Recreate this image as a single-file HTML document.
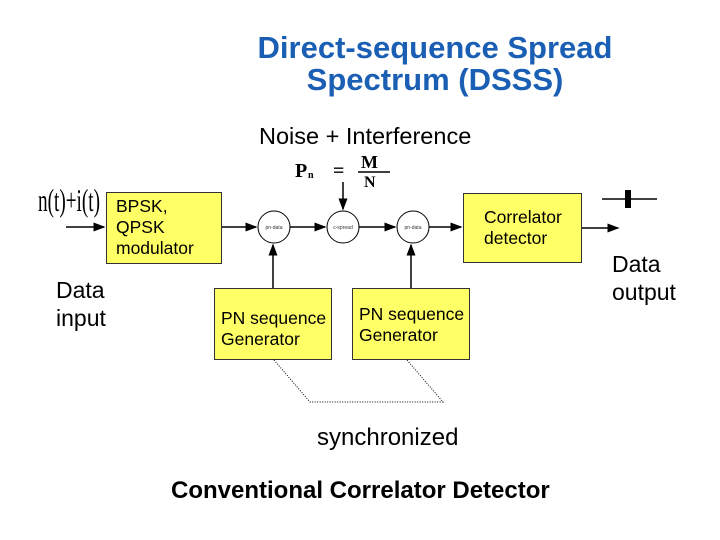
<!DOCTYPE html>
<html><head><style>
body{margin:0;width:720px;height:540px;background:#fff;overflow:hidden;position:relative;font-family:"Liberation Sans",sans-serif}
.t{position:absolute;white-space:nowrap}
.box{position:absolute;background:#ffff66;border:1px solid #333;box-sizing:border-box;font-size:17.5px;line-height:21px}
</style></head><body>
<div class="t" style="left:210px;top:32px;width:450px;text-align:center;color:#1a5fb4;font-weight:bold;font-size:31px;line-height:32px">Direct-sequence Spread<br>Spectrum (DSSS)</div>
<div class="t" style="left:259px;top:123px;font-size:23.5px">Noise + Interference</div>
<div class="t" style="left:38px;top:182px;font-size:32px;font-family:'Liberation Serif',serif;transform:scaleX(0.6);transform-origin:left">n(t)+i(t)</div>
<div class="t" style="left:56px;top:276px;font-size:23px;line-height:28px">Data<br>input</div>
<div class="t" style="left:612px;top:250px;font-size:23px;line-height:28px">Data<br>output</div>
<div class="box" style="left:106px;top:192px;width:116px;height:72px;padding:3px 0 0 9px">BPSK,<br>QPSK<br>modulator</div>
<div class="box" style="left:463px;top:193px;width:119px;height:70px;padding:13px 0 0 20px">Correlator<br>detector</div>
<div class="box" style="left:214px;top:288px;width:118px;height:72px;padding:19px 0 0 6px">PN sequence<br>Generator</div>
<div class="box" style="left:352px;top:288px;width:118px;height:72px;padding:15px 0 0 6px">PN sequence<br>Generator</div>
<div class="t" style="left:317px;top:424px;font-size:24px">synchronized</div>
<div class="t" style="left:171px;top:477px;font-size:24px;font-weight:bold">Conventional Correlator Detector</div>
<svg width="720" height="540" style="position:absolute;left:0;top:0">
<defs><marker id="a" markerWidth="8" markerHeight="6" refX="7" refY="3" orient="auto"><path d="M0,0L8,3L0,6z" fill="#000"/></marker></defs>
<g stroke="#000" stroke-width="1.5" fill="none">
<line x1="66" y1="227" x2="104" y2="227" marker-end="url(#a)"/>
<line x1="222" y1="227" x2="256" y2="227" marker-end="url(#a)"/>
<line x1="290" y1="227" x2="325" y2="227" marker-end="url(#a)"/>
<line x1="359" y1="227" x2="395" y2="227" marker-end="url(#a)"/>
<line x1="429" y1="227" x2="461" y2="227" marker-end="url(#a)"/>
<line x1="582" y1="228" x2="618" y2="228" marker-end="url(#a)"/>
<line x1="273" y1="288" x2="273" y2="245" marker-end="url(#a)"/>
<line x1="411" y1="288" x2="411" y2="245" marker-end="url(#a)"/>
<line x1="343" y1="182" x2="343" y2="209" marker-end="url(#a)"/>
<circle cx="274" cy="227" r="16" stroke-width="1"/>
<circle cx="343" cy="227" r="16" stroke-width="1"/>
<circle cx="413" cy="227" r="16" stroke-width="1"/>
<line x1="602" y1="199" x2="657" y2="199"/>
<polyline points="274,360 310,402 443,402 407,360" stroke-width="1" stroke-dasharray="1,1.5"/>
</g>
<rect x="625" y="190" width="6" height="18" fill="#000"/>
<g font-family="Liberation Serif,serif" font-weight="bold" fill="#000">
<text x="295" y="177" font-size="20">P</text><text x="308" y="178" font-size="10">n</text>
<text x="333" y="177" font-size="20">=</text>
<text x="361" y="168" font-size="18">M</text>
<line x1="358" y1="172" x2="390" y2="172" stroke="#000" stroke-width="1.5"/>
<text x="364" y="187" font-size="16">N</text>
</g>
<g font-size="5" fill="#333" text-anchor="middle"><text x="274" y="229">pn-data</text><text x="343" y="229">c-spread</text><text x="413" y="229">pn-data</text></g>
</svg>
</body></html>
